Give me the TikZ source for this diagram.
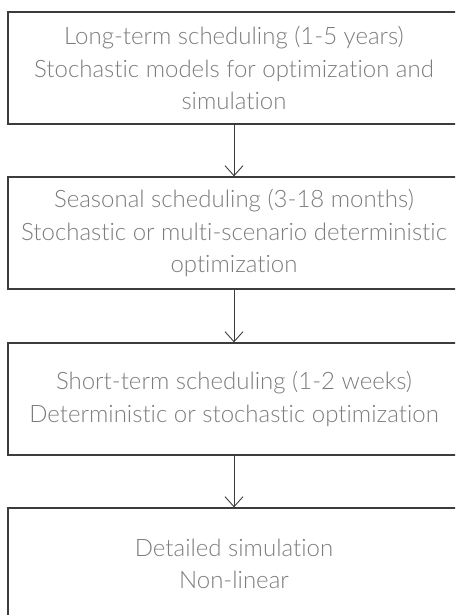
\documentclass[tikz,border=0pt]{standalone}
\usepackage{fontspec}
\setmainfont{Lato}[UprightFont=* Light, Ligatures=NoCommon]
\usetikzlibrary{arrows.meta}
\definecolor{framegray}{HTML}{3C3C3C}
\definecolor{textgray}{HTML}{7C7C7C}
\begin{document}
\begin{tikzpicture}[x=1pt,y=-1pt,
  stage/.style={draw=framegray, line width=1.3pt, rectangle,
    minimum width=452pt, minimum height=112pt, align=center,
    text=textgray, inner sep=0pt,
    font=\fontsize{24}{32.5}\selectfont},
  flow/.style={draw=framegray, line width=0.9pt,
    -{Straight Barb[length=10pt,width=18pt,line width=0.9pt]}}]
\useasboundingbox (0,0) rectangle (455,615);
\clip (0,0) rectangle (455,615);
\node[stage] (long) at (234,68) {Long-term scheduling (1-5 years)\\Stochastic models for optimization and\\simulation};
\node[stage] (seasonal) at (234,233) {Seasonal scheduling (3-18 months)\\Stochastic or multi-scenario deterministic\\optimization};
\node[stage] (short) at (234,399) {Short-term scheduling (1-2 weeks)\\Deterministic or stochastic optimization};
\node[stage] (detail) at (234,564) {Detailed simulation\\Non-linear};
\draw[flow] (long.south) -- (seasonal.north);
\draw[flow] (seasonal.south) -- (short.north);
\draw[flow] (short.south) -- (detail.north);
\end{tikzpicture}
\end{document}
